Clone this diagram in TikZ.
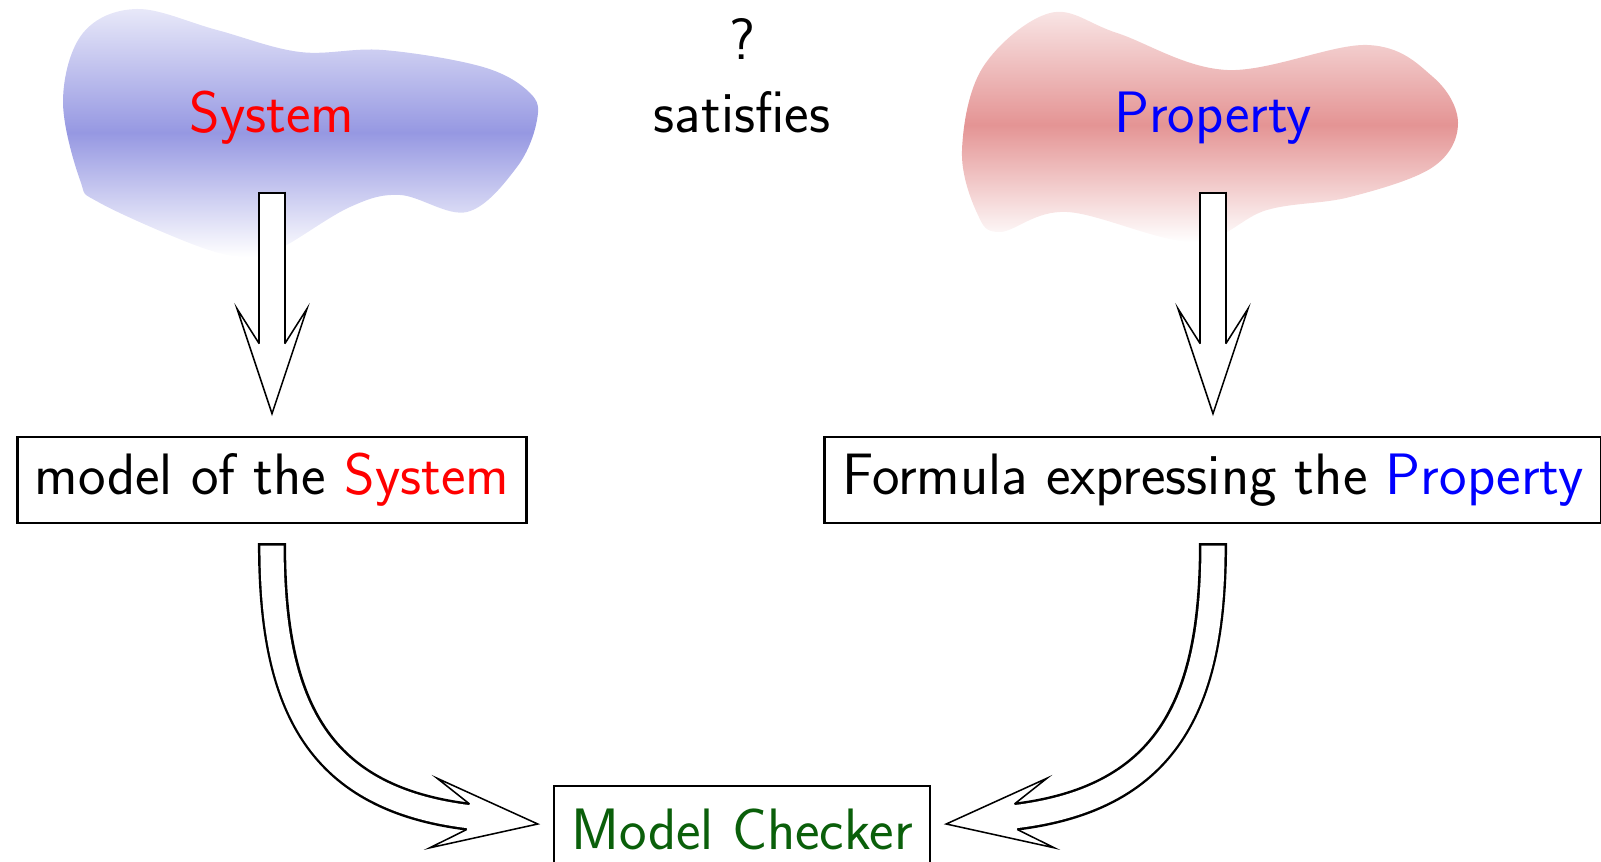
\documentclass[tikz,border=0pt]{standalone}
\usepackage{tikz}
\usetikzlibrary{calc}

\definecolor{blobblue}{RGB}{150,152,226}
\definecolor{blobred}{RGB}{228,148,148}
\definecolor{checkgreen}{RGB}{10,95,10}

\begin{document}
\begin{tikzpicture}[
    font=\sffamily\fontsize{26.6}{32}\selectfont,
    box/.style={draw, line width=1.3pt, inner xsep=8pt, inner ysep=6pt, minimum height=1.376cm},
    shaft/.style={draw=white, line width=0.37cm,
        preaction={draw=black, line width=0.45cm, shorten <=-0.04cm}},
    fathead/.pic={\filldraw[fill=white, draw=black, line width=0.7pt]
        (-1.12,0.205) -- (-1.68,0.56) -- (0,0) -- (-1.68,-0.56) -- (-1.12,-0.205);}
]
    \useasboundingbox (0,0) rectangle (25.616,13.776);

    % Blobs
    \shade[top color=blobblue!22!white, bottom color=white, middle color=blobblue]
        plot[smooth cycle, tension=0.6] coordinates {
            (1.008,12.176) (1.328,13.248) (2.192,13.632) (3.472,13.296)
            (4.8,12.944) (6.128,12.976) (7.728,12.704) (8.48,12.288)
            (8.592,11.856) (8.272,11.104) (7.472,10.384) (6.4,10.656)
            (5.6,10.464) (4.528,9.824) (4.0,9.664) (3.2,9.824)
            (1.6,10.528) (1.28,10.896)};
    \shade[top color=blobred!22!white, bottom color=white, middle color=blobred]
        plot[smooth cycle, tension=0.6] coordinates {
            (15.392,11.376) (15.728,12.704) (16.8,13.568) (17.872,13.248)
            (19.632,12.656) (21.872,13.056) (22.928,12.544) (23.328,11.808)
            (22.928,11.104) (21.6,10.624) (20.272,10.416) (19.088,9.904)
            (17.072,10.384) (16.0,10.064) (15.632,10.368)};

    % Labels
    \node[red, anchor=base] (sys) at (4.352,11.648) {System};
    \node[blue, anchor=base] (prop) at (19.408,11.648) {Property};
    \node[anchor=base] (sat) at (11.872,11.648) {satisfies};
    \node[anchor=base] (quest) at (11.872,12.816) {?};

    % Boxes
    \node[box] (model) at (4.352,6.096) {model of the \textcolor{red}{System}};
    \node[box] (formula) at (19.408,6.096) {Formula expressing the \textcolor{blue}{Property}};
    \node[box, line width=0.8pt, text=checkgreen] (checker) at (11.872,0.512) {Model Checker};

    % Straight arrows
    \coordinate (tipA) at ($(model.north)+(0,0.35)$);
    \coordinate (tipB) at ($(formula.north)+(0,0.35)$);
    \draw[shaft] ($(sys.base)+(0,-0.98)$) -- ($(tipA)+(0,1)$);
    \pic[rotate=-90] at (tipA) {fathead};
    \draw[shaft] ($(prop.base)+(0,-0.98)$) -- ($(tipB)+(0,1)$);
    \pic[rotate=-90] at (tipB) {fathead};

    % Curved arrows
    \coordinate (tipL) at ($(checker.west)+(-0.24,0.08)$);
    \coordinate (tipR) at ($(checker.east)+(0.24,0.08)$);
    \draw[shaft] ($(model.south)+(0,-0.34)$) to[out=-90, in=174, looseness=1.2] ($(tipL)+(174:1)$);
    \pic[rotate=-6] at (tipL) {fathead};
    \draw[shaft] ($(formula.south)+(0,-0.34)$) to[out=-90, in=6, looseness=1.2] ($(tipR)+(6:1)$);
    \pic[rotate=186] at (tipR) {fathead};
\end{tikzpicture}
\end{document}
